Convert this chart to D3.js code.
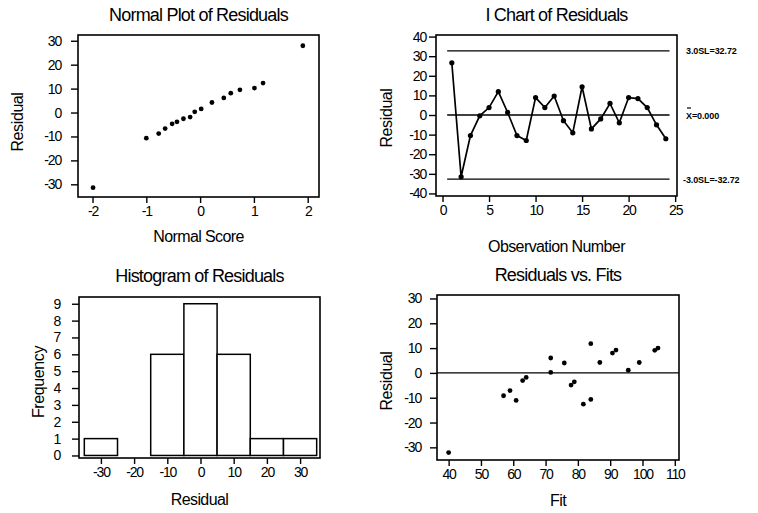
<!DOCTYPE html>
<html>
<head>
<meta charset="utf-8">
<script src="https://cdn.jsdelivr.net/npm/d3@7"></script>
<style>
  body { margin: 0; background: #fff; }
  svg text { font-family: "Liberation Sans", Arial, sans-serif; fill: #000; }
</style>
</head>
<body>
<svg id="chart" width="758" height="513"></svg>
<script>
/** Data **/
var normalScores = [-1.99, -1.0, -0.77, -0.65, -0.52, -0.43, -0.31, -0.185, -0.10, 0.02,
                    0.22, 0.44, 0.57, 0.74, 1.01, 1.17, 1.91];
var normalResiduals = [-31.4, -10.7, -8.8, -6.7, -4.7, -3.9, -2.6, -1.9, 0.3, 1.5,
                       4.2, 6.1, 8.1, 9.5, 10.2, 12.3, 27.9];

var obsNumbers = [1, 2, 3, 4, 5, 6, 7, 8, 9, 10, 11, 12,
                  13, 14, 15, 16, 17, 18, 19, 20, 21, 22, 23, 24];
var obsResiduals = [26.6, -31.5, -10.5, -0.4, 3.8, 11.9, 1.3, -10.5, -13, 8.9, 3.8, 9.7,
                    -2.9, -9.1, 14.4, -7.1, -2, 5.9, -4, 8.9, 8.4, 3.8, -5, -12.1];
var ucl = 32.72;
var centerLine = 0;
var lcl = -32.72;
var controlLabels = ["3.0SL=32.72", "=0.000", "-3.0SL=-32.72"];

var binCenters = [-30, -20, -10, 0, 10, 20, 30];
var binCounts  = [1, 0, 6, 9, 6, 1, 1];
var binWidth = 10;

var fits = [40, 57.0, 59.0, 60.9, 62.9, 64.0, 71.6, 71.6, 75.8, 77.9, 78.9,
            81.7, 84.0, 84.0, 86.8, 90.7, 91.8, 95.6, 99.0, 103.8, 104.8];
var fitResiduals = [-32.1, -9.2, -7.1, -11.1, -3.1, -1.8, 6.0, 0.2, 4.0, -4.9, -3.6,
                    -12.6, -10.7, 11.8, 4.2, 8.0, 9.2, 1.1, 4.2, 9.1, 10.0];

var svg = d3.select("#chart");

/**
 * Sets up one panel: box, axes, titles. Returns the scales.
 */
function makePanel(p)
{
    var x = d3.scaleLinear().domain(p.xDomain).range(p.xRange);
    var y = d3.scaleLinear().domain(p.yDomain).range(p.yRange);
    var g = svg.append("g");

    // plain hyphen for negatives, like the original print
    var fmt = function(d) { return String(d); };

    var xAxis = d3.axisBottom(x).tickValues(p.xTicks).tickSize(6).tickPadding(3).tickFormat(fmt);
    var yAxis = d3.axisLeft(y).tickValues(p.yTicks).tickSize(7).tickPadding(p.yPad).tickFormat(fmt);

    var gx = g.append("g")
        .attr("transform", "translate(0," + p.yRange[0] + ")")
        .call(xAxis);
    var gy = g.append("g")
        .attr("transform", "translate(" + p.xRange[0] + ",0)")
        .call(yAxis);

    [gx, gy].forEach(function(a) {
        a.select(".domain").remove();
        a.selectAll(".tick line").attr("stroke", "#000").attr("stroke-width", 1.4);
        a.selectAll(".tick text")
            .style("font-size", "14px")
            .style("letter-spacing", "-1.2px")
            .attr("fill", "#000");
    });

    g.append("rect")
        .attr("x", p.xRange[0])
        .attr("y", p.yRange[1])
        .attr("width", p.xRange[1] - p.xRange[0])
        .attr("height", p.yRange[0] - p.yRange[1])
        .attr("fill", "none")
        .attr("stroke", "#000")
        .attr("stroke-width", 1.6);

    var cx = (p.xRange[0] + p.xRange[1]) / 2;

    g.append("text")
        .attr("x", cx).attr("y", p.titleY)
        .attr("text-anchor", "middle")
        .style("font-size", "18px")
        .style("letter-spacing", "-0.8px")
        .text(p.title);

    g.append("text")
        .attr("x", cx).attr("y", p.xLabelY)
        .attr("text-anchor", "middle")
        .style("font-size", "16px")
        .style("letter-spacing", "-0.6px")
        .text(p.xLabel);

    g.append("text")
        .attr("transform", "translate(" + p.yLabelX + "," + p.yLabelCY + ") rotate(-90)")
        .attr("text-anchor", "middle")
        .style("font-size", "16px")
        .style("letter-spacing", "-0.4px")
        .text(p.yLabel);

    return { x: x, y: y, g: g };
}

/** Panel 1: Normal plot **/
var p1 = makePanel({
    xDomain: [-2.27, 2.21], xRange: [78, 319],
    yDomain: [-35.3, 32.4], yRange: [197, 35],
    xTicks: [-2, -1, 0, 1, 2], yTicks: [-30, -20, -10, 0, 10, 20, 30], yPad: 10,
    title: "Normal Plot of Residuals", titleY: 21,
    xLabel: "Normal Score", xLabelY: 242,
    yLabel: "Residual", yLabelX: 23, yLabelCY: 122
});
p1.g.selectAll("circle.pt")
    .data(normalScores)
    .enter()
    .append("circle")
    .attr("cx", function(d) { return p1.x(d); })
    .attr("cy", function(d, i) { return p1.y(normalResiduals[i]); })
    .attr("r", 2.4)
    .attr("fill", "#000");

/** Panel 2: I chart **/
var p2 = makePanel({
    xDomain: [-0.7, 25.2], xRange: [436, 677],
    yDomain: [-41.3, 40.8], yRange: [196, 35],
    xTicks: [0, 5, 10, 15, 20, 25], yTicks: [-40, -30, -20, -10, 0, 10, 20, 30, 40], yPad: 3,
    title: "I Chart of Residuals", titleY: 21,
    xLabel: "Observation Number", xLabelY: 252,
    yLabel: "Residual", yLabelX: 392, yLabelCY: 118
});
[ucl, centerLine, lcl].forEach(function(v) {
    p2.g.append("line")
        .attr("x1", p2.x(0.5)).attr("x2", p2.x(24.4))
        .attr("y1", p2.y(v)).attr("y2", p2.y(v))
        .attr("stroke", "#000")
        .attr("stroke-width", 1.4);
});
var line = d3.line()
    .x(function(d) { return p2.x(d); })
    .y(function(d, i) { return p2.y(obsResiduals[i]); });
p2.g.append("path")
    .datum(obsNumbers)
    .attr("d", line)
    .attr("fill", "none")
    .attr("stroke", "#000")
    .attr("stroke-width", 1.7);
p2.g.selectAll("circle.pt")
    .data(obsNumbers)
    .enter()
    .append("circle")
    .attr("cx", function(d) { return p2.x(d); })
    .attr("cy", function(d, i) { return p2.y(obsResiduals[i]); })
    .attr("r", 2.6)
    .attr("fill", "#000");

var ctrlVals = [ucl, centerLine, lcl];
var ctrlX = [686, 686, 683];
ctrlVals.forEach(function(v, i) {
    var t = p2.g.append("text")
        .attr("x", ctrlX[i])
        .attr("y", p2.y(v) + 3.5)
        .style("font-size", "9px")
        .style("font-weight", "bold")
        .style("letter-spacing", "-0.1px");
    if (i == 1) {
        t.append("tspan").text("X");
        // bar over the X
        p2.g.append("line")
            .attr("x1", ctrlX[i] + 1).attr("x2", ctrlX[i] + 5)
            .attr("y1", p2.y(v) - 7).attr("y2", p2.y(v) - 7)
            .attr("stroke", "#000").attr("stroke-width", 1.2);
    }
    t.append("tspan").text(controlLabels[i]);
});

/** Panel 3: Histogram **/
var p3 = makePanel({
    xDomain: [-36.6, 36.0], xRange: [79, 320],
    yDomain: [-0.15, 9.4], yRange: [458, 297],
    xTicks: [-30, -20, -10, 0, 10, 20, 30], yTicks: [0, 1, 2, 3, 4, 5, 6, 7, 8, 9], yPad: 12,
    title: "Histogram of Residuals", titleY: 282,
    xLabel: "Residual", xLabelY: 505,
    yLabel: "Frequency", yLabelX: 44, yLabelCY: 382
});
p3.g.selectAll("rect.bar")
    .data(binCenters)
    .enter()
    .append("rect")
    .attr("x", function(d) { return p3.x(d - binWidth / 2); })
    .attr("width", function(d) { return p3.x(d + binWidth / 2) - p3.x(d - binWidth / 2); })
    .attr("y", function(d, i) { return p3.y(binCounts[i]); })
    .attr("height", function(d, i) { return p3.y(0) - p3.y(binCounts[i]); })
    .attr("fill", "#fff")
    .attr("stroke", "#000")
    .attr("stroke-width", 1.5);

/** Panel 4: Residuals vs. Fits **/
var p4 = makePanel({
    xDomain: [36.4, 111.3], xRange: [437, 679],
    yDomain: [-35.1, 31.4], yRange: [460, 295],
    xTicks: [40, 50, 60, 70, 80, 90, 100, 110], yTicks: [-30, -20, -10, 0, 10, 20, 30], yPad: 9,
    title: "Residuals vs. Fits", titleY: 281,
    xLabel: "Fit", xLabelY: 506,
    yLabel: "Residual", yLabelX: 392, yLabelCY: 381
});
p4.g.append("line")
    .attr("x1", p4.x(36.4)).attr("x2", p4.x(111.3))
    .attr("y1", p4.y(0)).attr("y2", p4.y(0))
    .attr("stroke", "#000")
    .attr("stroke-width", 1.4);
p4.g.selectAll("circle.pt")
    .data(fits)
    .enter()
    .append("circle")
    .attr("cx", function(d) { return p4.x(d); })
    .attr("cy", function(d, i) { return p4.y(fitResiduals[i]); })
    .attr("r", 2.4)
    .attr("fill", "#000");
</script>
</body>
</html>
